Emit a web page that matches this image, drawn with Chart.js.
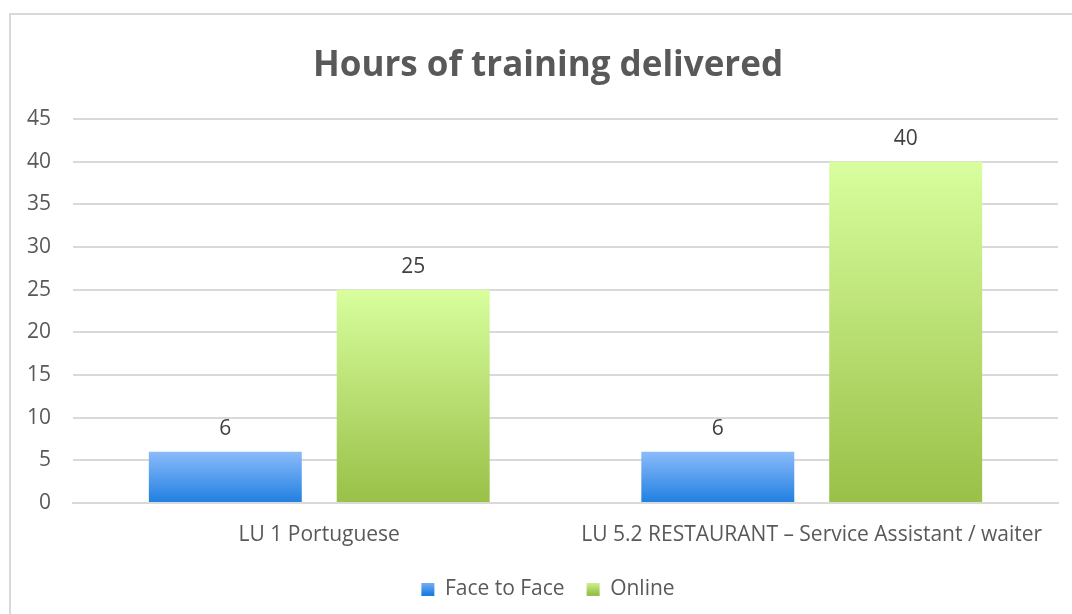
<!DOCTYPE html>
<html>
<head>
<meta charset="utf-8">
<script src="https://cdn.jsdelivr.net/npm/chart.js@4"></script>
<style>
  html, body { margin: 0; padding: 0; background: #fff; }
  #wrap { position: relative; width: 1072px; height: 614px; overflow: hidden; }
  #frame { position: absolute; left: 9px; top: 13px; width: 1100px; height: 700px;
           border: 2px solid #d9d9d9; box-sizing: border-box; }
  canvas { position: absolute; left: 0; top: 0; }
</style>
</head>
<body>
<div id="wrap">
  <div id="frame"></div>
  <canvas id="chart" width="1072" height="614"></canvas>
</div>
<script>
const categories = ['LU 1 Portuguese', 'LU 5.2 RESTAURANT \u2013 Service Assistant / waiter'];
const faceToFace = [6, 6];
const online = [25, 40];
const yTicks = [0, 5, 10, 15, 20, 25, 30, 35, 40, 45];

const FONT = "'Open Sans', sans-serif";
const TEXT = '#595959';
const SIZE = 21;

function barGradient(top, bottom) {
  return (context) => {
    const chart = context.chart;
    if (!chart.chartArea || !chart.scales.y) return bottom;
    const y = chart.scales.y;
    const g = chart.ctx.createLinearGradient(0, y.getPixelForValue(context.raw), 0, y.getPixelForValue(0));
    g.addColorStop(0, top);
    g.addColorStop(1, bottom);
    return g;
  };
}

// numbers above the bars
const valueLabels = {
  id: 'valueLabels',
  afterDatasetsDraw(chart) {
    const ctx = chart.ctx;
    ctx.save();
    ctx.font = SIZE + 'px ' + FONT;
    ctx.fillStyle = '#404040';
    ctx.textAlign = 'center';
    ctx.textBaseline = 'middle';
    chart.data.datasets.forEach((ds, i) => {
      chart.getDatasetMeta(i).data.forEach((bar, j) => {
        ctx.fillText(ds.data[j], bar.x, bar.y - 23);
      });
    });
    ctx.restore();
  }
};

const legendColors = [['#8bbbfa', '#1f7fe0'], ['#d8fe9e', '#99c047']];

new Chart(document.getElementById('chart'), {
  type: 'bar',
  data: {
    labels: categories,
    datasets: [
      { label: 'Face to Face', data: faceToFace, backgroundColor: barGradient('#8bbbfa', '#1f7fe0') },
      { label: 'Online', data: online, backgroundColor: barGradient('#d8fe9e', '#99c047') }
    ]
  },
  options: {
    responsive: false,
    animation: false,
    categoryPercentage: 0.763,
    barPercentage: 0.814,
    // negative right padding + empty right axis shifts title/legend centre to match
    layout: { padding: { left: 12, right: -12, top: 28, bottom: 4 } },
    plugins: {
      title: {
        display: true,
        text: 'Hours of training delivered',
        color: TEXT,
        font: { family: FONT, size: 35, weight: 'bold' },
        padding: { top: 17, bottom: 32 }
      },
      legend: {
        position: 'bottom',
        labels: {
          color: TEXT,
          font: { family: FONT, size: SIZE },
          boxWidth: 13,
          boxHeight: 13,
          padding: 22,
          generateLabels(chart) {
            const cy = 587;
            return chart.data.datasets.map((ds, i) => {
              const g = chart.ctx.createLinearGradient(0, cy - 7, 0, cy + 7);
              g.addColorStop(0, legendColors[i][0]);
              g.addColorStop(1, legendColors[i][1]);
              return { text: ds.label, fillStyle: g, strokeStyle: g, lineWidth: 0, datasetIndex: i, fontColor: TEXT };
            });
          }
        }
      },
      tooltip: { enabled: false }
    },
    scales: {
      x: {
        grid: { display: false, drawTicks: false },
        border: { display: true, color: '#d9d9d9', width: 2 },
        ticks: { color: TEXT, font: { family: FONT, size: SIZE }, padding: 19, maxRotation: 0 },
        afterFit(axis) { axis.height = 54; }
      },
      y: {
        min: 0,
        max: 45,
        afterBuildTicks(axis) { axis.ticks = yTicks.map(v => ({ value: v })); },
        grid: { color: '#d9d9d9', lineWidth: 2, drawTicks: false },
        border: { display: false },
        ticks: { color: TEXT, font: { family: FONT, size: SIZE }, padding: 22 },
        afterFit(axis) { axis.width = 61; }
      },
      y2: {
        position: 'right',
        min: 0,
        max: 45,
        grid: { display: false, drawTicks: false },
        border: { display: false },
        ticks: { display: false },
        afterFit(axis) { axis.width = 26; }
      }
    }
  },
  plugins: [valueLabels]
});
</script>
</body>
</html>
